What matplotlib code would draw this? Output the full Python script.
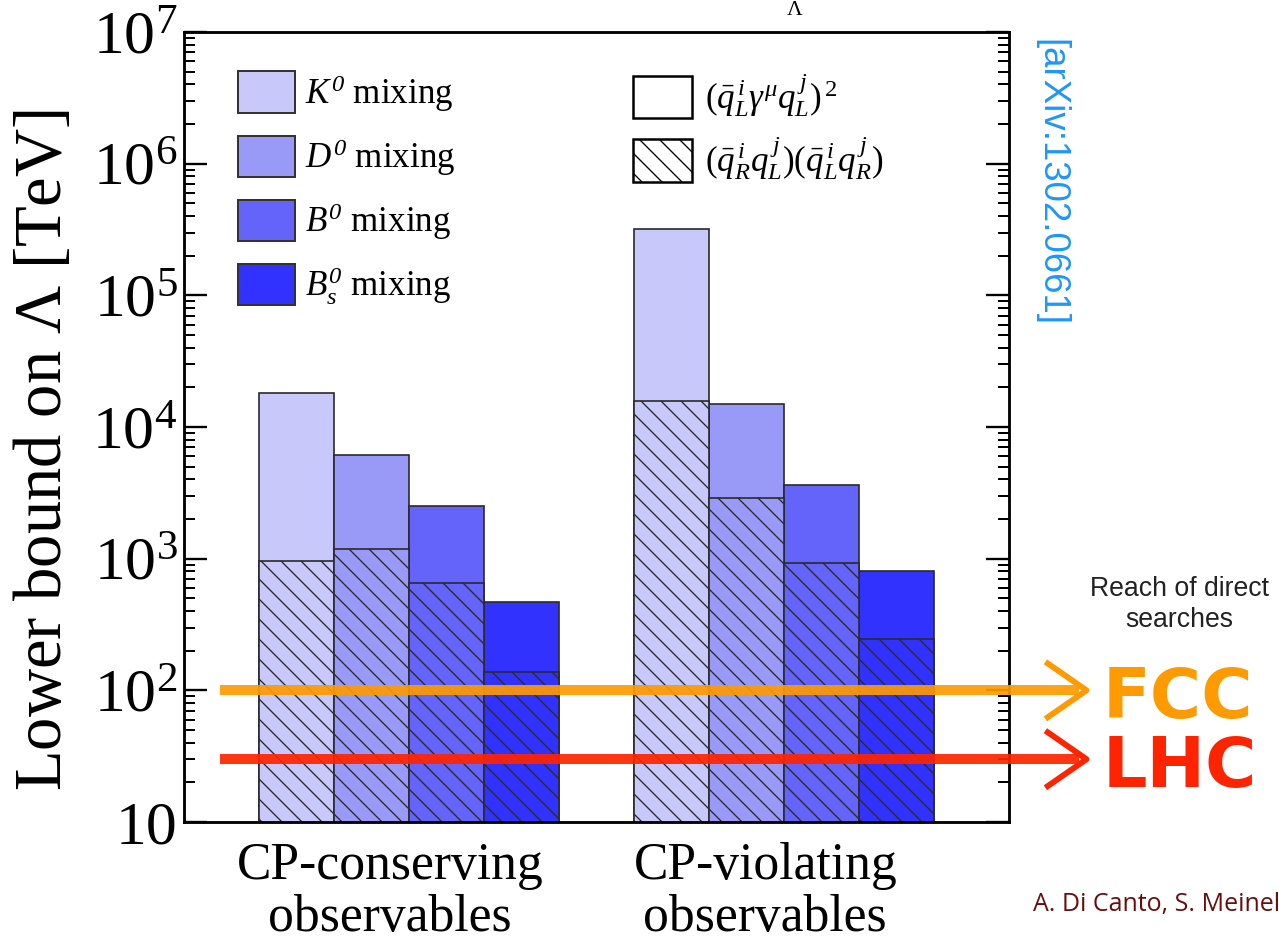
import numpy as np
import matplotlib
matplotlib.use("agg")
import matplotlib.pyplot as plt
import matplotlib.transforms as mtransforms
from matplotlib.patches import Patch
from matplotlib.ticker import FixedLocator, NullFormatter

plt.rcParams['font.family'] = ['Liberation Serif', 'DejaVu Serif']
plt.rcParams['mathtext.fontset'] = 'custom'
plt.rcParams['mathtext.rm'] = 'Liberation Serif'
plt.rcParams['mathtext.it'] = 'Liberation Serif:italic'
plt.rcParams['mathtext.bf'] = 'Liberation Serif:bold'
plt.rcParams['mathtext.cal'] = 'Liberation Serif:italic'
plt.rcParams['hatch.linewidth'] = 0.8

# meson systems and their colours
meson_labels = [r'$K^{\mathcal{0}}$ mixing', r'$D^{\mathcal{0}}$ mixing',
                r'$B^{\mathcal{0}}$ mixing', r'$B_s^{\mathcal{0}}$ mixing']
meson_colors = ['#c8c8fa', '#9999f8', '#6464fa', '#3232ff']
groups = ['CP-conserving\nobservables', 'CP-violating\nobservables']

# lower bounds on Lambda [TeV]; LL = (qL g qL)^2 (open), LR = (qR qL)(qL qR) (hatched)
cpc_LL = [1.8e4, 6.1e3, 2.5e3, 470]
cpc_LR = [960, 1190, 655, 138]
cpv_LL = [3.2e5, 1.5e4, 3.6e3, 810]
cpv_LR = [1.58e4, 2.9e3, 920, 246]

# reach of direct searches [TeV]
reach_names = ['FCC', 'LHC']
reach_values = [100, 30]
reach_colors = ['#ff9a00', '#ff2400']

ytick_vals = [10, 1e2, 1e3, 1e4, 1e5, 1e6, 1e7]
ytick_labels = ['10', r'$10^{2}$', r'$10^{3}$', r'$10^{4}$', r'$10^{5}$', r'$10^{6}$', r'$10^{7}$']

fig = plt.figure(figsize=(1279/120, 949/120), dpi=120)
ax = fig.add_axes([0.1439, 0.1338, 0.645, 0.8325])

edge = '#2a2a2a'
hatch = '\\\\'
for g, (ll, lr) in enumerate([(cpc_LL, cpc_LR), (cpv_LL, cpv_LR)]):
    xs = 1 + 5*g + np.arange(len(ll))
    ax.bar(xs, np.array(ll) - 1, bottom=1, width=1, align='edge',
           color=meson_colors, edgecolor=edge, linewidth=1.0, zorder=2)
    ax.bar(xs, np.array(lr) - 1, bottom=1, width=1, align='edge',
           color=meson_colors, edgecolor=edge, linewidth=1.0, hatch=hatch, zorder=2)

ax.set_yscale('log')
ax.set_ylim(10, 1e7)
ax.set_xlim(0, 11)
ax.yaxis.set_major_locator(FixedLocator(ytick_vals))
ax.set_yticklabels(ytick_labels)
minor = [m * d for d in ytick_vals[:-1] for m in range(2, 10)]
ax.yaxis.set_minor_locator(FixedLocator(minor))
ax.yaxis.set_minor_formatter(NullFormatter())
ax.tick_params(axis='y', which='both', direction='in', left=True, right=True)
ax.tick_params(axis='y', which='major', length=13.8, width=1.4, labelsize=37, pad=4)
ax.tick_params(axis='y', which='minor', length=6.6, width=1.2)
ax.set_xticks([2.75, 7.75])
ax.set_xticklabels(groups, fontsize=31, linespacing=1.1)
ax.tick_params(axis='x', length=0, pad=12)
for s in ax.spines.values():
    s.set_linewidth(1.7)

fig.text(0.035, (949 - 450)/949, r'Lower bound on $\Lambda$ [TeV]', rotation=90,
         ha='center', va='center', fontsize=40)
fig.text(795/1279, 1 - 1/949, r'$\Lambda$', ha='center', va='top', fontsize=13)

# legends
h1 = [Patch(facecolor=c, edgecolor='#333333', linewidth=1.2) for c in meson_colors]
leg1 = ax.legend(h1, meson_labels, loc='upper left', bbox_to_anchor=(0.065, 0.95),
                 frameon=False, fontsize=21, handlelength=1.63, handleheight=1.45,
                 labelspacing=0.62, handletextpad=0.3, borderpad=0, borderaxespad=0)
ax.add_artist(leg1)
h2 = [Patch(facecolor='white', edgecolor='black', linewidth=1.5),
      Patch(facecolor='white', edgecolor='black', linewidth=1.5, hatch=hatch)]
lab2 = [r'$(\bar{q}_L^{\,i}\gamma^{\mu}q_L^{\,j})^{\,2}$',
        r'$(\bar{q}_R^{\,i}q_L^{\,j})(\bar{q}_L^{\,i}q_R^{\,j})$']
ax.legend(h2, lab2, loc='upper left', bbox_to_anchor=(0.544, 0.95),
          frameon=False, fontsize=21, handlelength=1.7, handleheight=1.5,
          labelspacing=0.45, handletextpad=0.35, borderpad=0, borderaxespad=0)

# reach of direct searches
trans = mtransforms.blended_transform_factory(ax.transAxes, ax.transData)
for name, v, c in zip(reach_names, reach_values, reach_colors):
    ax.plot([0.044, 1.085], [v, v], transform=trans, color=c, lw=6.0, alpha=0.92,
            clip_on=False, solid_capstyle='butt', zorder=4)
    ax.plot([1.047, 1.094, 1.047], [v*1.6, v, v/1.6], transform=trans, color=c,
            lw=3.5, clip_on=False, zorder=4)
    ax.text(1.113, v*0.86, name, transform=trans, color=c, fontsize=42, fontweight='bold',
            family='DejaVu Sans', ha='left', va='center', clip_on=False)

ax.text(1.207, 0.275, 'Reach of direct\nsearches', transform=ax.transAxes,
        family='Liberation Sans', fontsize=16, color='#222222', ha='center',
        va='center', linespacing=1.25)
ax.text(1.051, 0.81, '[arXiv:1302.0661]', transform=ax.transAxes, rotation=-90,
        family='Liberation Sans', fontsize=22, color='#1e96fa', ha='center', va='center')
fig.text(1033/1279, 1 - 905/949, 'A. Di Canto, S. Meinel', family='Open Sans',
         fontsize=15, color='#6b0c0c', ha='left', va='center')

fig.savefig('out.png', dpi=120)
